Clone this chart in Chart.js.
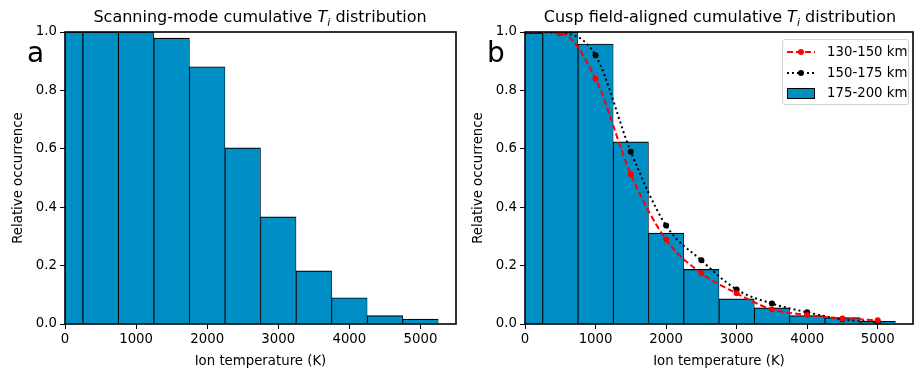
<!DOCTYPE html>
<html>
<head>
<meta charset="utf-8">
<script src="https://cdn.jsdelivr.net/npm/chart.js@4.4.0/dist/chart.umd.min.js"></script>
<style>
  body { margin: 0; background: #fff; font-family: 'DejaVu Sans', sans-serif; color: #000; }
  #fig { position: relative; width: 917px; height: 368px; overflow: hidden; }
  .panel { position: absolute; top: 0; height: 368px; }
  .title { position: absolute; top: 9px; font-size: 16px; line-height: 16px; white-space: nowrap; transform: translateX(-50%); }
  .title sub { font-size: 11px; line-height: 0; }
  .letter { position: absolute; top: 39px; font-size: 28px; line-height: 28px; }
  .legend { position: absolute; left: 782px; top: 39px; width: 125px; height: 64px; border: 1px solid #d0d0d0;
            border-radius: 3px; background: rgba(255,255,255,0.8); font-size: 13.3px; }
  .legend .item { position: absolute; left: 4px; height: 14px; }
  .legend svg { position: absolute; left: 0; top: 0; }
  .legend span { position: absolute; left: 40px; top: -1px; white-space: nowrap; line-height: 16px; }
</style>
</head>
<body>
<div id="fig">
  <div class="panel" style="left:0;width:460px;"><canvas id="chartA"></canvas></div>
  <div class="panel" style="left:460px;width:457px;"><canvas id="chartB"></canvas></div>
  <div class="title" style="left:260px;">Scanning-mode cumulative <i>T<sub>i</sub></i> distribution</div>
  <div class="title" style="left:720px;">Cusp field-aligned cumulative <i>T<sub>i</sub></i> distribution</div>
  <div class="letter" style="left:27px;">a</div>
  <div class="letter" style="left:487px;">b</div>
  <div class="legend">
    <div class="item" style="top:5px;">
      <svg width="28" height="14"><line x1="0" y1="7" x2="28" y2="7" stroke="#ff0000" stroke-width="2" stroke-dasharray="6,3"/><circle cx="14" cy="7" r="3" fill="#ff0000"/></svg>
      <span>130-150 km</span>
    </div>
    <div class="item" style="top:26px;">
      <svg width="28" height="14"><line x1="0" y1="7" x2="28" y2="7" stroke="#000" stroke-width="2" stroke-dasharray="2,3"/><circle cx="14" cy="7" r="3" fill="#000"/></svg>
      <span>150-175 km</span>
    </div>
    <div class="item" style="top:46px;">
      <svg width="28" height="14"><rect x="0.5" y="2.5" width="27" height="10" fill="#008fc5" stroke="#000" stroke-width="1"/></svg>
      <span>175-200 km</span>
    </div>
  </div>
</div>
<script>
// bin centres (K), the first bin is cut by the axis at 0
const temps = [0, 500, 1000, 1500, 2000, 2500, 3000, 3500, 4000, 4500, 5000];
const scanning = [1.0, 1.0, 1.0, 0.979, 0.881, 0.603, 0.367, 0.182, 0.090, 0.029, 0.017];
const cusp175 = [0.997, 1.0, 0.959, 0.624, 0.311, 0.187, 0.086, 0.055, 0.029, 0.022, 0.009];
const cusp130 = [1.0, 0.997, 0.840, 0.513, 0.289, 0.174, 0.105, 0.050, 0.031, 0.019, 0.013];
const cusp150 = [1.0, 0.997, 0.920, 0.590, 0.337, 0.218, 0.118, 0.070, 0.040, 0.016, 0.007];
const xTicks = [0, 1000, 2000, 3000, 4000, 5000];
const yTicks = [0, 0.2, 0.4, 0.6, 0.8, 1.0];

const barColor = '#008fc5';
const font = { family: 'DejaVu Sans', size: 13.3 };

function points(vals) {
    return temps.map((t, i) => ({ x: t, y: vals[i] }));
}

function barSet(label, vals) {
    return {
        type: 'bar',
        label: label,
        data: points(vals),
        backgroundColor: barColor,
        borderColor: '#000',
        borderWidth: { top: 1.2, left: 1, right: 0.7, bottom: 0 },
        borderSkipped: false,
        barPercentage: 1,
        categoryPercentage: 1,
        clip: 0,
        order: 3
    };
}

function lineSet(label, vals, color, dash, order) {
    return {
        type: 'line',
        label: label,
        data: points(vals),
        borderColor: color,
        borderWidth: 2,
        borderDash: dash,
        pointRadius: ctx => ctx.dataIndex === 0 ? 0 : 3,
        pointBackgroundColor: color,
        pointBorderWidth: 0,
        cubicInterpolationMode: 'monotone',
        fill: false,
        order: order
    };
}

const frame = {
    id: 'frame',
    afterDraw(chart) {
        const a = chart.chartArea, c = chart.ctx;
        c.save();
        c.strokeStyle = '#000';
        c.lineWidth = 1.6;
        c.strokeRect(a.left, a.top, a.right - a.left, a.bottom - a.top);
        c.restore();
    }
};

function makeChart(id, datasets, padRight) {
    return new Chart(document.getElementById(id), {
        type: 'bar',
        data: { datasets: datasets },
        options: {
            responsive: true,
            maintainAspectRatio: false,
            animation: false,
            events: [],
            layout: { padding: { top: 32, right: padRight, left: 0, bottom: 0 } },
            plugins: { legend: { display: false }, tooltip: { enabled: false } },
            scales: {
                x: {
                    type: 'linear',
                    min: 0,
                    max: 5500,
                    offset: false,
                    afterBuildTicks: s => { s.ticks = xTicks.map(v => ({ value: v })); },
                    afterFit: s => { s.height = 44; },
                    grid: { drawOnChartArea: false, offset: false, tickLength: 5, color: '#000', lineWidth: 1 },
                    border: { display: false },
                    ticks: { font: font, color: '#000', padding: 3, maxRotation: 0, autoSkip: false, callback: v => String(v) },
                    title: { display: true, text: 'Ion temperature (K)', font: font, color: '#000', padding: { top: 0, bottom: -2 } }
                },
                y: {
                    min: 0,
                    max: 1,
                    afterBuildTicks: s => { s.ticks = yTicks.map(v => ({ value: v })); },
                    afterFit: s => { s.width = 65; },
                    grid: { drawOnChartArea: false, offset: false, tickLength: 5, color: '#000', lineWidth: 1 },
                    border: { display: false },
                    ticks: { font: font, color: '#000', padding: 3, callback: v => v.toFixed(1) },
                    title: { display: true, text: 'Relative occurrence', font: font, color: '#000', padding: 11 }
                }
            }
        },
        plugins: [frame]
    });
}

makeChart('chartA', [barSet('Scanning mode', scanning)], 4);
makeChart('chartB', [
    lineSet('130-150 km', cusp130, '#ff0000', [6, 3], 1),
    lineSet('150-175 km', cusp150, '#000', [2, 3], 2),
    barSet('175-200 km', cusp175)
], 1);
</script>
</body>
</html>
